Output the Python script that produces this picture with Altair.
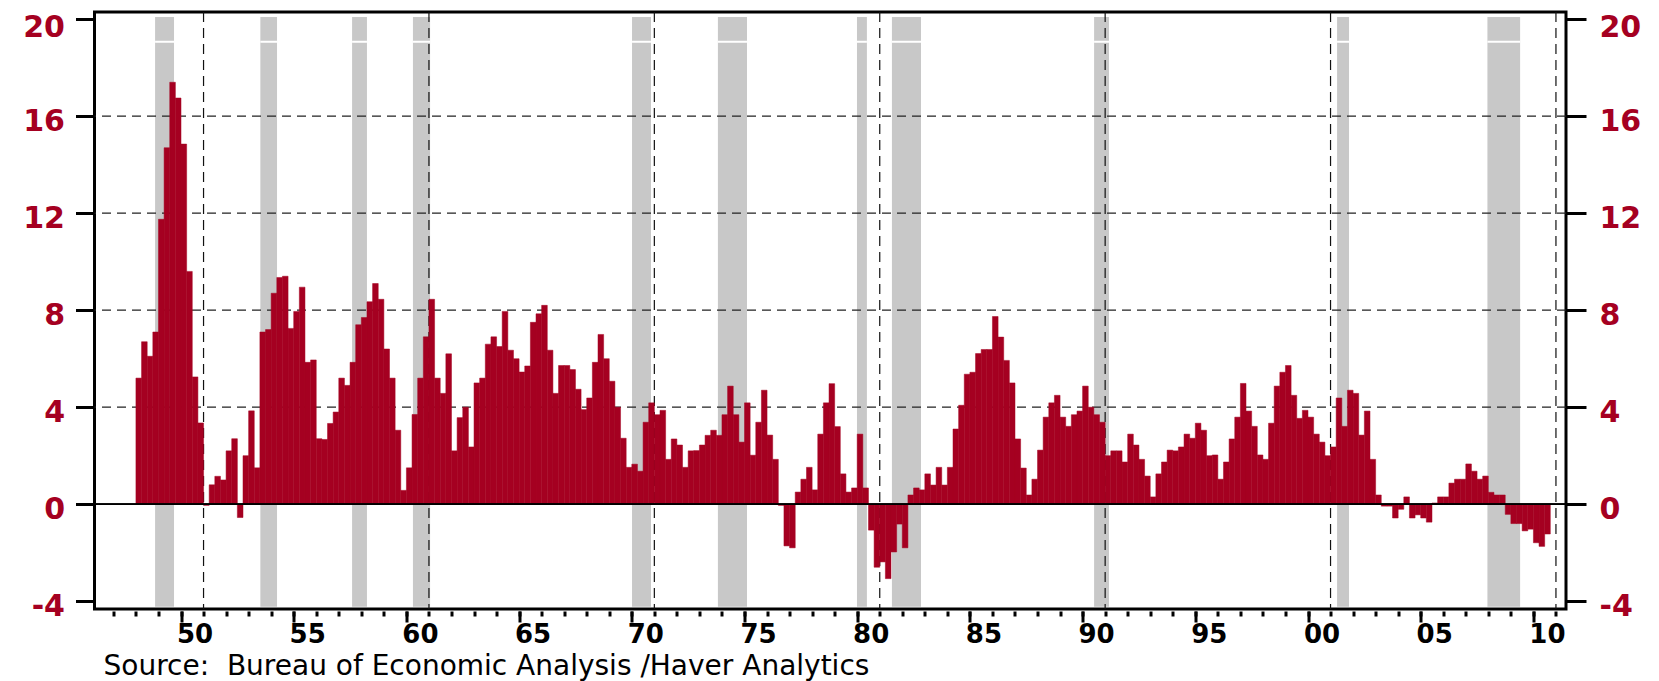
import altair as alt
import pandas as pd

# ---------------- data (quarterly, starting 1948Q1) ----------------
q_1948_1959 = [5.2, 6.7, 6.1, 7.1, 11.75, 14.7, 17.4, 16.75, 14.85, 9.6, 5.25, 3.35,
               -0.05, 0.8, 1.15, 1.0, 2.2, 2.7, -0.55, 2.0, 3.85, 1.5, 7.1, 7.2,
               8.7, 9.35, 9.4, 7.25, 7.95, 8.95, 5.85, 5.95, 2.7, 2.67, 3.33, 3.8,
               5.2, 4.9, 5.85, 7.4, 7.7, 8.35, 9.1, 8.45, 6.4, 5.2, 3.05, 0.57]
q_1960_1969 = [1.5, 3.7, 5.2, 6.9, 8.45, 5.2, 4.57, 6.2, 2.2, 3.57, 4.0, 2.36,
               5.0, 5.2, 6.6, 6.9, 6.5, 7.95, 6.35, 6.0, 5.45, 5.7, 7.5, 7.85,
               8.2, 6.35, 4.57, 5.72, 5.72, 5.55, 4.74, 3.9, 4.38, 5.85, 7.0, 6.0,
               5.07, 4.0, 2.72, 1.52]
q_1970_1979 = [1.65, 1.36, 3.38, 4.18, 3.69, 3.87, 1.85, 2.69, 2.44, 1.52, 2.2, 2.21,
               2.44, 2.84, 3.05, 2.84, 3.69, 4.87, 3.69, 2.56, 4.18, 2.02, 3.38, 4.7,
               2.85, 1.85, -0.05, -1.72, -1.8, 0.5, 1.03, 1.52, 0.59, 2.89, 4.18, 4.97,
               3.2, 1.25, 0.5, 0.67]
q_1980_1989 = [2.89, 0.67, -1.07, -2.6, -2.38, -3.07, -1.97, -0.82, -1.8, 0.38, 0.67, 0.59,
               1.25, 0.79, 1.52, 0.79, 1.52, 3.1, 4.08, 5.36, 5.44, 6.21, 6.38, 6.38,
               7.74, 6.89, 5.93, 5.0, 2.69, 1.49, 0.38, 1.03, 2.23, 3.59, 4.18, 4.49,
               3.59, 3.21, 3.69, 3.84]
q_1990_1999 = [4.87, 4.0, 3.69, 3.38, 2.0, 2.2, 2.2, 1.74, 2.89, 2.44, 1.85, 1.16,
               0.3, 1.25, 1.74, 2.23, 2.2, 2.36, 2.89, 2.72, 3.34, 3.05, 2.0, 2.03,
               1.03, 1.74, 2.69, 3.59, 4.98, 3.84, 3.21, 2.03, 1.85, 3.34, 4.87, 5.44,
               5.72, 4.49, 3.54, 3.87]
q_2000_2010 = [3.59, 2.89, 2.56, 2.0, 2.36, 4.38, 3.21, 4.7, 4.57, 2.85, 3.84, 1.85,
               0.38, -0.08, -0.08, -0.57, -0.21, 0.3, -0.57, -0.44, -0.57, -0.74, 0.05, 0.3,
               0.3, 0.87, 1.03, 1.03, 1.66, 1.36, 1.03, 1.16, 0.49, 0.38, 0.38, -0.42,
               -0.8, -0.8, -1.1, -1.03, -1.59, -1.74, -1.23]
first_year = 1948

# recession shading (decimal years)
rec_start = [1948.85, 1953.52, 1957.59, 1960.29, 1970.01, 1973.82, 1979.99, 1981.54, 1990.51, 2001.29, 2007.96]
rec_end = [1949.69, 1954.26, 1958.25, 1961.05, 1970.85, 1975.11, 1980.43, 1982.83, 1991.17, 2001.82, 2009.41]

grid_levels = [4, 8, 12, 16]
decade_lines = [1951, 1961, 1971, 1981, 1991, 2001, 2011]
y_ticks = [-4, 0, 4, 8, 12, 16, 20]
major_years = list(range(1950, 2011, 5))
minor_years = list(range(1947, 2012))
source_text = "Source:\u00a0 Bureau of Economic Analysis /Haver Analytics"

# ---------------- tables ----------------
values = q_1948_1959 + q_1960_1969 + q_1970_1979 + q_1980_1989 + q_1990_1999 + q_2000_2010
starts = [first_year + i / 4 for i in range(len(values))]
bars_df = pd.DataFrame({"start": starts, "end": [s + 0.25 for s in starts], "value": values})
rec_df = pd.DataFrame({"start": rec_start, "end": rec_end})
hgrid_df = pd.DataFrame({"level": grid_levels})
vgrid_df = pd.DataFrame({"year": decade_lines})

RED = "#A50021"
GRAY = "#C8C8C8"
FONT = "DejaVu Sans"

xs = alt.Scale(domain=[1946.162, 2011.446], nice=False, zero=False)
ys = alt.Scale(domain=[-4.322, 20.297], nice=False, zero=False)

y_label_offset = {"condition": {"test": "datum.value == 20", "value": 8.5}, "value": 5}

minor_axis = alt.Axis(values=minor_years, orient="bottom", tickSize=5, tickWidth=3,
                      tickColor="black", labels=False, domain=False, grid=False,
                      title=None, offset=2)
major_axis = alt.Axis(values=major_years, orient="bottom", tickSize=11, tickWidth=3,
                      tickColor="black", format="d", labelExpr="slice(datum.label, 2)",
                      labelOffset=13.5, labelPadding=-1, labelFontSize=26, labelFont=FONT,
                      labelFontWeight="bold", labelColor="black", labelFlush=False,
                      labelOverlap=False, domain=False, grid=False, offset=2,
                      title=source_text, titleX=8.5, titleY=63.4, titleAlign="left",
                      titleAnchor="start", titleBaseline="alphabetic", titleFontSize=28,
                      titleFont=FONT, titleFontWeight="normal", titleColor="black")
left_axis = alt.Axis(values=y_ticks, orient="left", tickSize=19, tickWidth=3,
                     tickColor="black", labelExpr="toString(datum.value)",
                     labelFontSize=30, labelFont=FONT, labelOffset=y_label_offset,
                     labelFontWeight="bold", labelColor=RED, labelPadding=11,
                     labelOverlap=False, domain=False, grid=False, title=None)
right_axis = alt.Axis(values=y_ticks, orient="right", tickSize=20, tickWidth=3,
                      tickColor="black", labelExpr="toString(datum.value)",
                      labelFontSize=30, labelFont=FONT, labelOffset=y_label_offset,
                      labelFontWeight="bold", labelColor=RED, labelPadding=13,
                      labelOverlap=False, domain=False, grid=False, title=None)

bands = alt.Chart(rec_df).mark_rect(color=GRAY).encode(
    x=alt.X("start:Q", scale=xs, axis=minor_axis),
    x2="end:Q",
    y=alt.Y(datum=20.09, scale=ys, axis=None),
    y2=alt.Y2(datum=-4.23),
)

band_gap = alt.Chart(rec_df).mark_rule(color="white", strokeWidth=2).encode(
    x=alt.X("start:Q", scale=xs, axis=None),
    x2="end:Q",
    y=alt.Y(datum=19.07, scale=ys, axis=None),
)

hgrid = alt.Chart(hgrid_df).mark_rule(color="#222222", strokeDash=[9, 6], strokeWidth=1.3).encode(
    y=alt.Y("level:Q", scale=ys, axis=right_axis),
)

vgrid = alt.Chart(vgrid_df).mark_rule(color="#111111", strokeDash=[10, 6], strokeWidth=1.2).encode(
    x=alt.X("year:Q", scale=xs, axis=None),
)

bars = alt.Chart(bars_df).mark_rect(color=RED, stroke=RED, strokeWidth=0.5).encode(
    x=alt.X("start:Q", scale=xs, axis=major_axis),
    x2="end:Q",
    y=alt.Y("value:Q", scale=ys, axis=left_axis),
    y2=alt.Y2(datum=0),
)

zero_line = alt.Chart(hgrid_df).mark_rule(color="black", strokeWidth=1.4).encode(
    y=alt.Y(datum=0, scale=ys, axis=None),
)

chart = (
    alt.layer(bands, band_gap, hgrid, vgrid, bars, zero_line)
    .resolve_axis(x="independent", y="independent")
    .properties(
        width=1471.5,
        height=597,
        padding={"left": 86.5, "top": 4, "right": 85, "bottom": 73},
        autosize=alt.AutoSizeParams(type="none"),
        background="white",
    )
    .configure_view(stroke="black", strokeWidth=3)
)

chart.save("out.html", embed_options={"renderer": "svg", "actions": False})
